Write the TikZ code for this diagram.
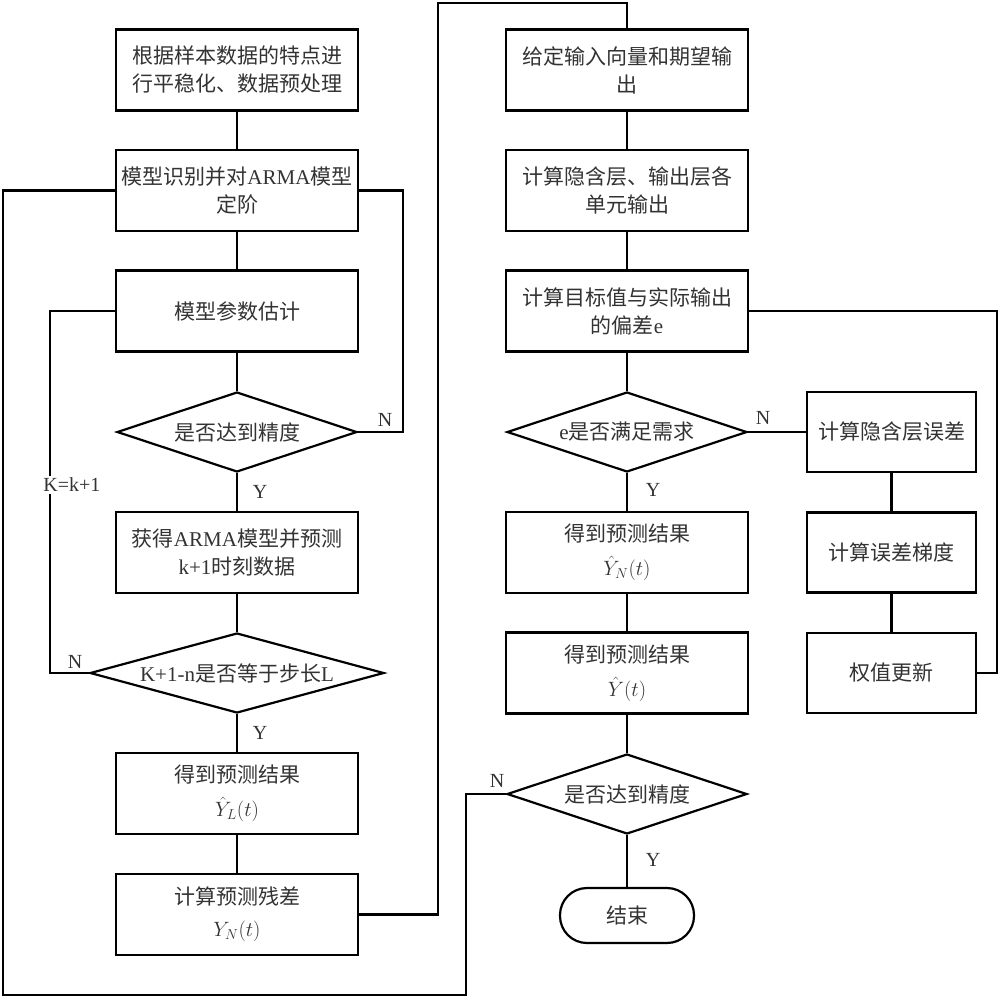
\documentclass[tikz,border=0pt]{standalone}
\usepackage{fontspec}
\setmainfont{Noto Sans CJK SC}
\newfontfamily\lat{Liberation Serif}
\usetikzlibrary{shapes.geometric}
\tikzset{
  x=1pt,y=-1pt,
  every node/.style={font=\fontsize{21}{28}\selectfont, text=black!80},
  box/.style={draw=black, line width=2.2pt, minimum width=242pt, minimum height=81pt, inner sep=0pt, align=center},
  sbox/.style={draw=black, line width=2.2pt, minimum width=169pt, minimum height=80pt, inner sep=0pt, align=center},
  dia/.style={draw=black, line width=2.2pt, diamond, inner sep=0pt, minimum height=80pt},
  term/.style={draw=black, line width=2.2pt, rounded corners=27pt, minimum width=134pt, minimum height=55pt, inner sep=0pt},
  conn/.style={line width=2.2pt, draw=black},
  lbl/.style={font=\lat\fontsize{20}{24}\selectfont, inner sep=1pt}
}
\begin{document}
\begin{tikzpicture}
\useasboundingbox (0,0) rectangle (1000,999);
% left column
\node[box] (b1) at (237,70) {根据样本数据的特点进\\行平稳化、数据预处理};
\node[box] (b2) at (237,190.5) {模型识别并对{\lat ARMA}模型\\定阶};
\node[box] (b3) at (237,311) {模型参数估计};
\node[dia, minimum width=240pt, label={center:是否达到精度}] (d1) at (237,432) {};
\node[box] (b4) at (237,552.5) {获得{\lat ARMA}模型并预测\\{\lat k+1}时刻数据};
\node[dia, minimum width=294pt, label={center:{\lat K+1-n}是否等于步长{\lat L}}] (d2) at (237,673) {};
\node[box] (b5) at (237,793.5) {得到预测结果\\[6pt]$\hat{Y}_L(t)$};
\node[box] (b6) at (237,914.5) {计算预测残差\\[4pt]$Y_N(t)$};
% right column
\node[box] (b7) at (627,70) {给定输入向量和期望输\\出};
\node[box] (b8) at (627,190.5) {计算隐含层、输出层各\\单元输出};
\node[box] (b9) at (627,311) {计算目标值与实际输出\\的偏差{\lat e}};
\node[dia, minimum width=240pt, label={center:{\lat e}是否满足需求}] (de) at (627,432) {};
\node[box] (b10) at (627,552.5) {得到预测结果\\[6pt]$\hat{Y}_N(t)$};
\node[box] (b11) at (627,673) {得到预测结果\\[6pt]$\hat{Y}(t)$};
\node[dia, minimum width=240pt, label={center:是否达到精度}] (d3) at (627,794) {};
\node[term] (end) at (627,915.5) {结束};
% side column
\node[sbox] (sa) at (891.5,432) {计算隐含层误差};
\node[sbox] (sb) at (891.5,552.5) {计算误差梯度};
\node[sbox] (sc) at (891.5,673) {权值更新};
% connectors left
\draw[conn] (b1) -- (b2);
\draw[conn] (b2) -- (b3);
\draw[conn] (b3) -- (d1.north);
\draw[conn] (d1.south) -- (b4);
\draw[conn] (b4) -- (d2.north);
\draw[conn] (d2.south) -- (b5);
\draw[conn] (b5) -- (b6);
\draw[conn] (d1.east) -- (403,432) |- (b2.east);
\draw[conn] (b3.west) -- (50,311) |- (d2.west);
\node[fill=white, lbl, inner sep=2pt] (kl) at (72,485) {K=k+1};
\draw[conn] (b2.west) -| (3,995) -| (466,794) -- (d3.west);
\draw[conn] (b6.east) -| (438,3) -| (b7.north);
% connectors right
\draw[conn] (b7) -- (b8);
\draw[conn] (b8) -- (b9);
\draw[conn] (b9) -- (de.north);
\draw[conn] (de.south) -- (b10);
\draw[conn] (b10) -- (b11);
\draw[conn] (b11) -- (d3.north);
\draw[conn] (d3.south) -- (end);
\draw[conn] (de.east) -- (sa.west);
\draw[conn] (sa) -- (sb);
\draw[conn] (sb) -- (sc);
\draw[conn] (b9.east) -- (997,311) |- (sc.east);
% labels
\node[lbl] (n1) at (385,420) {N};
\node[lbl] (y1) at (260,492) {Y};
\node[lbl] (n2) at (75,662) {N};
\node[lbl] (y2) at (260,733) {Y};
\node[lbl] (n3) at (763,418) {N};
\node[lbl] (y3) at (653,490) {Y};
\node[lbl] (n4) at (497,781) {N};
\node[lbl] (y4) at (653,860) {Y};
\end{tikzpicture}
\end{document}
